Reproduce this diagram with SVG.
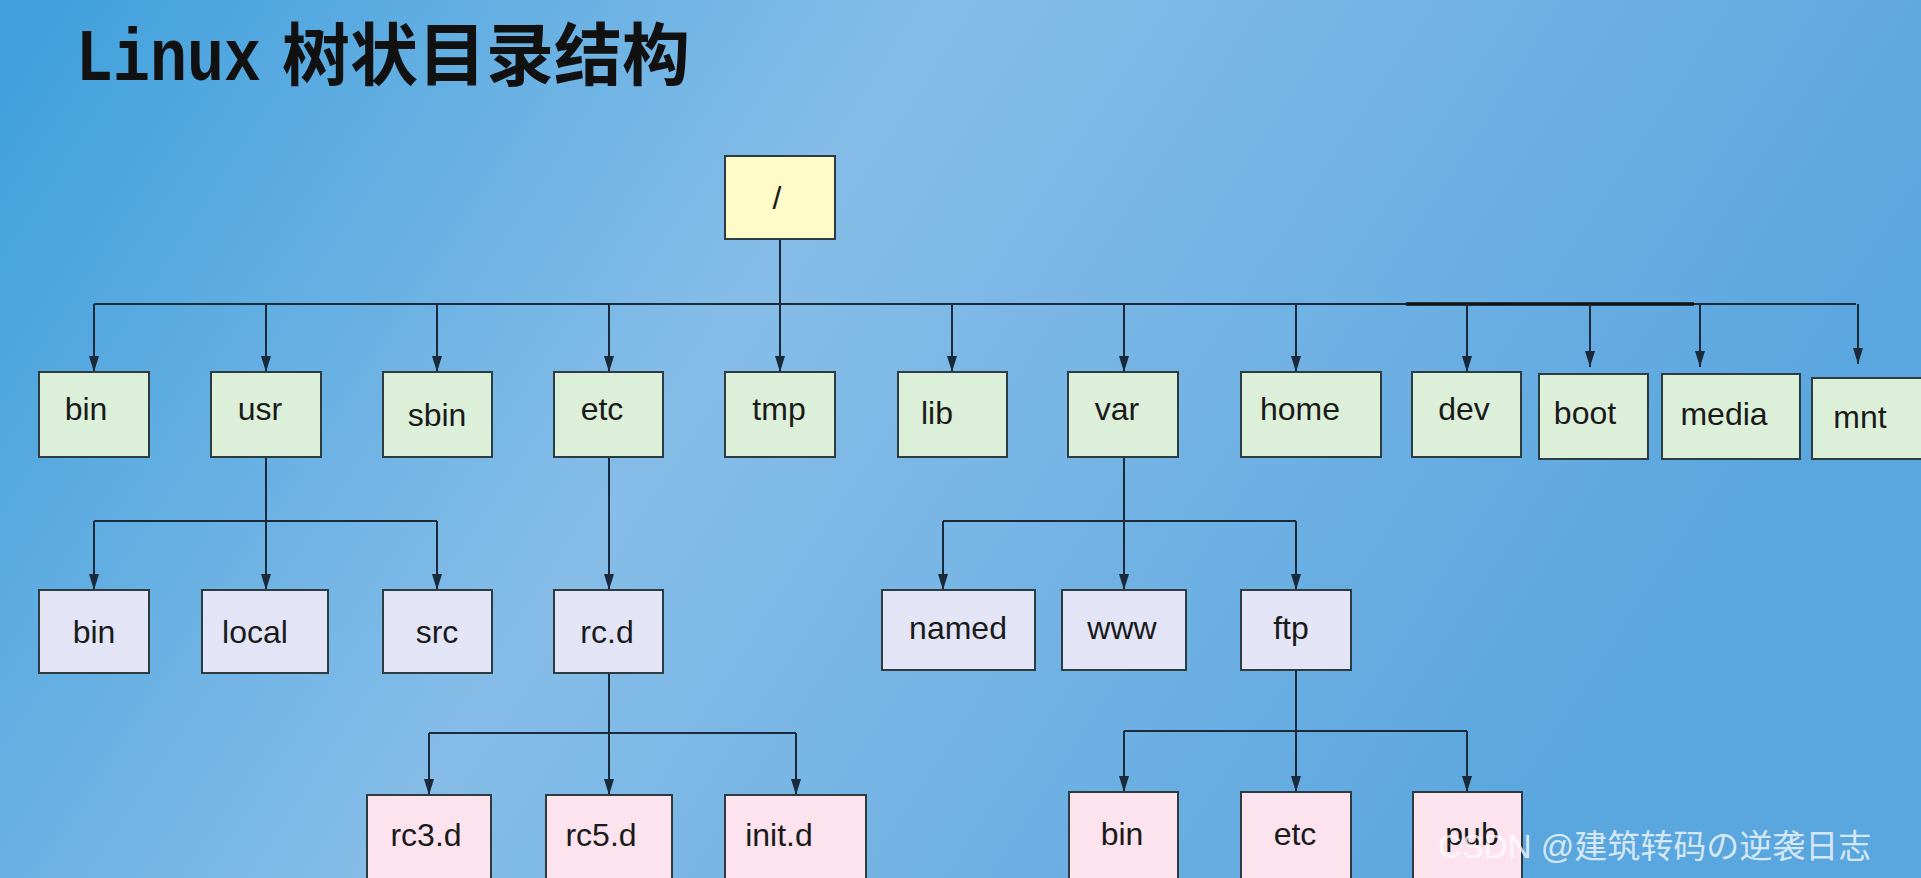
<svg xmlns="http://www.w3.org/2000/svg" width="1921" height="878" viewBox="0 0 1921 878">
<defs>
<linearGradient id="bg" x1="0" y1="0" x2="1" y2="0.3">
<stop offset="0" stop-color="#3d9fdc"/>
<stop offset="0.45" stop-color="#86bde8"/>
<stop offset="1" stop-color="#5aa6df"/>
</linearGradient>
<marker id="ar" markerWidth="16" markerHeight="10" refX="16" refY="5" orient="auto" markerUnits="userSpaceOnUse" viewBox="0 0 16 10">
<path d="M0,0 L16,5 L0,10 Z" fill="#1a2a3a"/>
</marker>
<style>
.b{stroke:#2c3c40;stroke-width:2}
.g{fill:#dcefd8}.l{fill:#e3e5f6}.p{fill:#fce3ee}.y{fill:#fffbc8}
.t{font-family:"Liberation Sans",Arial,sans-serif;font-size:32px;fill:#1a1a1a;text-anchor:middle}
.c{fill:none;stroke:#1a2a3a;stroke-width:2}
.a{marker-end:url(#ar)}
</style>
</defs>
<rect width="1921" height="878" fill="url(#bg)"/>
<text x="76" y="80" font-weight="bold" fill="#111"><tspan font-family="Liberation Mono,monospace" font-size="74" textLength="185" lengthAdjust="spacingAndGlyphs">Linux</tspan><tspan x="282" font-family="Noto Sans CJK SC,sans-serif" font-size="68">树状目录结构</tspan></text>
<g id="connectors">
<path class="c" d="M780 239V304M94 304H1856"/>
<path d="M1406 304H1694" stroke="#111" stroke-width="3.5"/>
<path class="c a" d="M94 304V372"/><path class="c a" d="M266 304V372"/><path class="c a" d="M437 304V372"/><path class="c a" d="M609 304V372"/><path class="c a" d="M780 304V372"/><path class="c a" d="M952 304V372"/><path class="c a" d="M1124 304V372"/><path class="c a" d="M1296 304V372"/><path class="c a" d="M1467 304V372"/><path class="c a" d="M1590 304V367"/><path class="c a" d="M1700 304V367"/><path class="c a" d="M1858 304V364"/>
<path class="c" d="M266 457V521M94 521H437"/>
<path class="c a" d="M94 521V590"/><path class="c a" d="M266 521V590"/><path class="c a" d="M437 521V590"/>
<path class="c a" d="M609 457V590"/>
<path class="c" d="M1124 457V521M943 521H1296"/>
<path class="c a" d="M943 521V590"/><path class="c a" d="M1124 521V590"/><path class="c a" d="M1296 521V590"/>
<path class="c" d="M609 673V733M429 733H796"/>
<path class="c a" d="M429 733V795"/><path class="c a" d="M609 733V795"/><path class="c a" d="M796 733V795"/>
<path class="c" d="M1296 670V731M1124 731H1467"/>
<path class="c a" d="M1124 731V792"/><path class="c a" d="M1296 731V792"/><path class="c a" d="M1467 731V792"/>
</g>
<g id="root"><rect class="b y" x="725" y="156" width="110" height="83"/><text class="t" x="777" y="209">/</text></g>
<g id="bin"><rect class="b g" x="39" y="372" width="110" height="85"/><text class="t" x="86" y="420">bin</text></g>
<g id="usr"><rect class="b g" x="211" y="372" width="110" height="85"/><text class="t" x="260" y="420">usr</text></g>
<g id="sbin"><rect class="b g" x="383" y="372" width="109" height="85"/><text class="t" x="437" y="426">sbin</text></g>
<g id="etc"><rect class="b g" x="554" y="372" width="109" height="85"/><text class="t" x="602" y="420">etc</text></g>
<g id="tmp"><rect class="b g" x="725" y="372" width="110" height="85"/><text class="t" x="779" y="420">tmp</text></g>
<g id="lib"><rect class="b g" x="898" y="372" width="109" height="85"/><text class="t" x="937" y="424">lib</text></g>
<g id="var"><rect class="b g" x="1068" y="372" width="110" height="85"/><text class="t" x="1117" y="420">var</text></g>
<g id="home"><rect class="b g" x="1241" y="372" width="140" height="85"/><text class="t" x="1300" y="420">home</text></g>
<g id="dev"><rect class="b g" x="1412" y="372" width="109" height="85"/><text class="t" x="1464" y="420">dev</text></g>
<g id="boot"><rect class="b g" x="1539" y="374" width="109" height="85"/><text class="t" x="1585" y="424">boot</text></g>
<g id="media"><rect class="b g" x="1662" y="374" width="138" height="85"/><text class="t" x="1724" y="425">media</text></g>
<g id="mnt"><rect class="b g" x="1812" y="378" width="112" height="81"/><text class="t" x="1860" y="428">mnt</text></g>
<g id="usr-bin"><rect class="b l" x="39" y="590" width="110" height="83"/><text class="t" x="94" y="643">bin</text></g>
<g id="local"><rect class="b l" x="202" y="590" width="126" height="83"/><text class="t" x="255" y="643">local</text></g>
<g id="src"><rect class="b l" x="383" y="590" width="109" height="83"/><text class="t" x="437" y="643">src</text></g>
<g id="rcd"><rect class="b l" x="554" y="590" width="109" height="83"/><text class="t" x="607" y="643">rc.d</text></g>
<g id="named"><rect class="b l" x="882" y="590" width="153" height="80"/><text class="t" x="958" y="639">named</text></g>
<g id="www"><rect class="b l" x="1062" y="590" width="124" height="80"/><text class="t" x="1122" y="639">www</text></g>
<g id="ftp"><rect class="b l" x="1241" y="590" width="110" height="80"/><text class="t" x="1291" y="639">ftp</text></g>
<g id="rc3d"><rect class="b p" x="367" y="795" width="124" height="90"/><text class="t" x="426" y="846">rc3.d</text></g>
<g id="rc5d"><rect class="b p" x="546" y="795" width="126" height="90"/><text class="t" x="601" y="846">rc5.d</text></g>
<g id="initd"><rect class="b p" x="725" y="795" width="141" height="90"/><text class="t" x="779" y="846">init.d</text></g>
<g id="ftp-bin"><rect class="b p" x="1069" y="792" width="109" height="90"/><text class="t" x="1122" y="845">bin</text></g>
<g id="ftp-etc"><rect class="b p" x="1241" y="792" width="110" height="90"/><text class="t" x="1295" y="845">etc</text></g>
<g id="pub"><rect class="b p" x="1413" y="792" width="109" height="90"/><text class="t" x="1472" y="845">pub</text></g>
<text x="1438" y="858" font-family="Liberation Sans,Noto Sans CJK SC,sans-serif" font-size="33" fill="#ffffff" fill-opacity="0.75">CSDN @建筑转码の逆袭日志</text>
</svg>
